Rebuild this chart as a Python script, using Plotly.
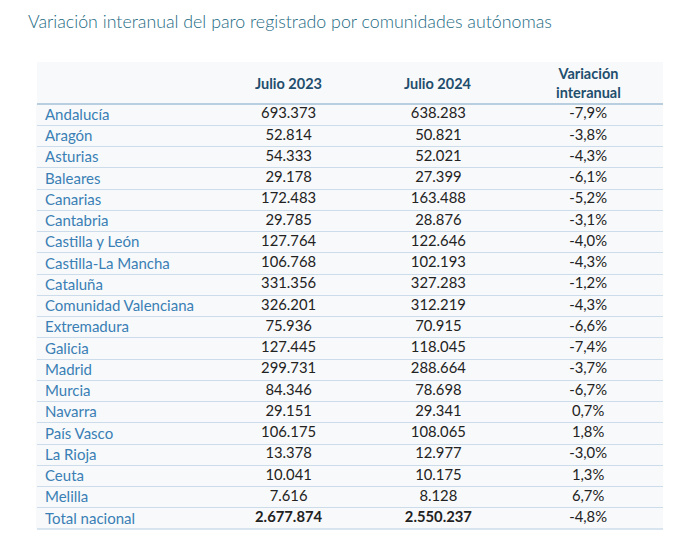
import plotly.graph_objects as go

regiones = ["Andalucía", "Aragón", "Asturias", "Baleares", "Canarias", "Cantabria",
            "Castilla y León", "Castilla-La Mancha", "Cataluña", "Comunidad Valenciana",
            "Extremadura", "Galicia", "Madrid", "Murcia", "Navarra", "País Vasco",
            "La Rioja", "Ceuta", "Melilla", "Total nacional"]
julio_2023 = [693373, 52814, 54333, 29178, 172483, 29785, 127764, 106768, 331356, 326201,
              75936, 127445, 299731, 84346, 29151, 106175, 13378, 10041, 7616, 2677874]
julio_2024 = [638283, 50821, 52021, 27399, 163488, 28876, 122646, 102193, 327283, 312219,
              70915, 118045, 288664, 78698, 29341, 108065, 12977, 10175, 8128, 2550237]
variacion = [-7.9, -3.8, -4.3, -6.1, -5.2, -3.1, -4.0, -4.3, -1.2, -4.3,
             -6.6, -7.4, -3.7, -6.7, 0.7, 1.8, -3.0, 1.3, 6.7, -4.8]
columnas = ["", "Julio 2023", "Julio 2024", "Variación<br>interanual"]

TITLE = "Variación interanual del paro registrado por comunidades autónomas"
FONT = "Lato, 'Open Sans', sans-serif"

W, H = 670, 533  # page body has an 8px default margin


def miles(v):
    return f"{v:,}".replace(",", ".")


def pct(v):
    return f"{v:.1f}".replace(".", ",") + "%"


def celda(v, i):
    s = miles(v)
    return f"<b>{s}</b>" if regiones[i] == "Total nacional" else s


fig = go.Figure()
for col, vals, fmt in [(columnas[1], julio_2023, celda),
                       (columnas[2], julio_2024, celda),
                       (columnas[3], variacion, lambda v, i: pct(v))]:
    fig.add_trace(go.Scatter(
        x=[col] * len(regiones), y=regiones,
        text=[fmt(v, i) for i, v in enumerate(vals)],
        mode="text", textposition="middle center",
        textfont=dict(family=FONT, size=14.8, color="#222222"),
        hoverinfo="skip", showlegend=False, cliponaxis=False))

PLOT_H = 425
# header labels
for col in columnas[1:]:
    fig.add_annotation(x=col, xref="x", y=1 + 21 / PLOT_H, yref="paper", text=f"<b>{col}</b>",
                       showarrow=False, yanchor="middle",
                       font=dict(family=FONT, size=14.5, color="#1f4e6e"))

# header background
fig.add_shape(type="rect", xref="paper", yref="paper", x0=0, x1=1, y0=1, y1=1 + 42 / PLOT_H,
              fillcolor="#f8f9fa", line_width=0, layer="below")
# header separator line
fig.add_shape(type="line", xref="paper", yref="paper", x0=0, x1=1, y0=1, y1=1,
              line=dict(color="#b9cfe0", width=2))
fig.add_shape(type="line", xref="paper", yref="paper", x0=0, x1=1, y0=0, y1=0,
              line=dict(color="#cddceb", width=1.5))

fig.update_layout(
    width=W, height=H,
    margin=dict(l=29, r=15, t=96, b=12),
    paper_bgcolor="white", plot_bgcolor="#f8f9fa",
    title=dict(text=TITLE, x=20 / W, xref="container", xanchor="left",
               y=1 - 14 / H, yref="container", yanchor="middle",
               font=dict(family=FONT, size=17.8, color="#236a82", weight=300)),
    xaxis=dict(type="category", categoryorder="array", categoryarray=columnas,
               range=[-0.68, 3.5], showticklabels=False, showgrid=False,
               zeroline=False, fixedrange=True),
    yaxis=dict(type="category", categoryorder="array", categoryarray=regiones,
               range=[19.5, -0.5], tickson="boundaries", ticks="",
               showgrid=True, gridcolor="#cddceb", gridwidth=1,
               ticklabelposition="inside", ticklabelstandoff=8,
               tickfont=dict(family=FONT, size=15, color="#3a7fb5"),
               zeroline=False, showline=True, linecolor="#f8f9fa", fixedrange=True),
)

fig.write_html("out.html")
